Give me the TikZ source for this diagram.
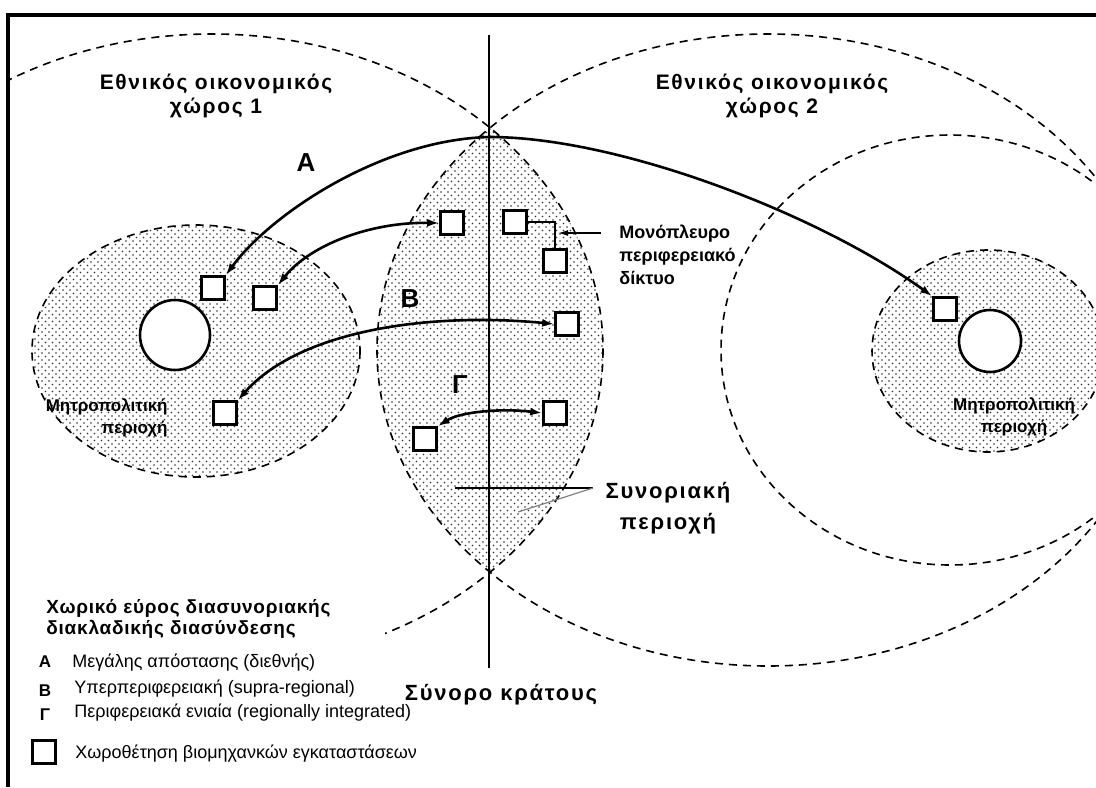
\documentclass[tikz,border=0pt]{standalone}
\usepackage{fontspec}
\setmainfont{Liberation Sans}
\newfontfamily\lblfont[LetterSpace=8]{Liberation Sans}
\newfontfamily\keyfont[LetterSpace=4]{Liberation Sans}
\usetikzlibrary{arrows.meta,patterns}

\pgfdeclarepatternformonly{sparsedots}{\pgfqpoint{-0.5pt}{-0.5pt}}{\pgfqpoint{3pt}{3pt}}{\pgfqpoint{3.5pt}{3.5pt}}{%
  \pgfpathcircle{\pgfqpoint{0pt}{0pt}}{0.45pt}%
  \pgfpathcircle{\pgfqpoint{1.75pt}{1.75pt}}{0.45pt}%
  \pgfusepath{fill}}

\tikzset{
  zone/.style={dash pattern=on 4pt off 3pt, line width=0.8pt},
  dotfill/.style={pattern=sparsedots, pattern color=black!80},
  sitebox/.style={draw, fill=white, line width=1.3pt, minimum size=11.5pt, inner sep=0pt},
  link/.style={line width=1.3pt, {Latex[length=6pt,width=4pt]}-{Latex[length=6pt,width=4pt]}},
  title/.style={font=\lblfont\bfseries\fontsize{10.5}{12}\selectfont, align=center, inner sep=0pt},
  bigletter/.style={font=\bfseries\fontsize{13}{13}\selectfont, inner sep=0pt},
  metro/.style={font=\bfseries\fontsize{8.5}{11}\selectfont, inner sep=0pt},
  smalllbl/.style={font=\bfseries\fontsize{9}{11.5}\selectfont, align=left, inner sep=0pt},
  borderlbl/.style={font=\lblfont\bfseries\fontsize{11}{15.5}\selectfont, align=center, inner sep=0pt},
  keytitle/.style={font=\keyfont\bfseries\fontsize{9.5}{10.5}\selectfont, align=left, inner sep=0pt},
  keyletter/.style={font=\bfseries\fontsize{8.5}{10}\selectfont, inner sep=0pt},
  keytext/.style={font=\fontsize{9}{10}\selectfont, inner sep=0pt}
}

\begin{document}
\begin{tikzpicture}[x=0.5pt, y=-0.5pt]
\useasboundingbox (0,0) rectangle (1096,787);

\begin{scope}
\clip (8,15) rectangle (1096,787);

% 边境区 (两个国家空间的交集)
\begin{scope}
  \clip (212,350) ellipse [x radius=391, y radius=316];
  \fill[dotfill] (768,350) ellipse [x radius=391, y radius=316];
\end{scope}

% 大都市区
\fill[dotfill] (196,351) ellipse [x radius=164, y radius=126];
\draw[zone] (196,351) ellipse [x radius=164, y radius=126];
\fill[dotfill] (988,351) ellipse [x radius=116, y radius=101];
\draw[zone] (988,351) ellipse [x radius=116, y radius=101];

% 国家经济空间
\begin{scope}
  \clip (8,15) rectangle (1096,560) (385,560) rectangle (1096,787);
  \draw[zone] (212,350) ellipse [x radius=391, y radius=316];
\end{scope}
\draw[zone] (768,350) ellipse [x radius=391, y radius=316];
\draw[zone] (950,350) ellipse [x radius=229, y radius=215];

% 城市中心
\draw[line width=1.3pt, fill=white] (175,335) circle [radius=35];
\draw[line width=1.3pt, fill=white] (990,341) circle [radius=31];
\end{scope}

% 国界
\coordinate (lineTop) at (489,35);
\coordinate (lineEnd) at (489,668);
\draw[line width=1pt] (lineTop) -- (lineEnd);

% 工业设施
\node[sitebox] (sqL1) at (213,288) {};
\node[sitebox] (sqL2) at (265,298) {};
\node[sitebox] (sqL3) at (225,413) {};
\node[sitebox] (sqC1) at (452,223) {};
\node[sitebox] (sqC2) at (515,222) {};
\node[sitebox] (sqC3) at (555,261) {};
\node[sitebox] (sqC4) at (567,324) {};
\node[sitebox] (sqC5) at (555,413) {};
\node[sitebox] (sqC6) at (425,439) {};
\node[sitebox] (sqR1) at (945,309) {};

% 联系
\coordinate (aTop) at (489,137);
\draw[link] (sqL1.north east) .. controls (270,215) and (380,140) .. (aTop)
    .. controls (620,137) and (820,215) .. (sqR1.north west);
\draw[link] (sqL2.north east) .. controls (310,245) and (370,222) .. (sqC1.west);
\draw[link] (sqL3.north east) .. controls (300,330) and (430,312) .. (sqC4.west);
\draw[link] (sqC6.north east) .. controls (460,412) and (500,408) .. (sqC5.west);
\draw[line width=0.7pt] (sqC2.east) -| (sqC3.north);

% 标签
\node[title] (natOne) at (216,96) {Εθνικός οικονομικός\\χώρος 1};
\node[title] (natTwo) at (772,96) {Εθνικός οικονομικός\\χώρος 2};
\node[bigletter] (lblA) at (306,163) {Α};
\node[bigletter] (lblB) at (410,299) {Β};
\node[bigletter] (lblG) at (460,385) {Γ};
\node[metro, align=right, anchor=east] (metroL) at (168,418) {Μητροπολιτική\\περιοχή};
\node[metro, align=center] (metroR) at (1014,417) {Μητροπολιτική\\περιοχή};

\node[smalllbl, anchor=north west] (oneSided) at (619,225) {Μονόπλευρο\\περιφερειακό\\δίκτυο};
\coordinate (oneTail) at (601,233);
\coordinate (oneTip) at (558,233);
\draw[line width=0.7pt, -{Latex[length=5pt,width=3pt]}] (oneTail) -- (oneTip);

\node[borderlbl] (borderZone) at (668,508) {Συνοριακή\\περιοχή};
\coordinate (zoneA) at (593,488);
\coordinate (zoneB) at (455,488);
\coordinate (zoneC) at (518,512);
\draw[line width=0.8pt] (zoneA) -- (zoneB);
\draw[line width=0.6pt, gray] (zoneA) -- (zoneC);

\node[borderlbl, anchor=base] (stateBorder) at (501,700) {Σύνορο κράτους};

% 图例
\node[keytitle, anchor=north west] (keyHead) at (46,599) {Χωρικό εύρος διασυνοριακής\\διακλαδικής διασύνδεσης};
\node[keyletter, anchor=base] (keyA) at (45,667) {Α};
\node[keytext, anchor=base west] (keyAtxt) at (72,667) {Μεγάλης απόστασης (διεθνής)};
\node[keyletter, anchor=base] (keyB) at (45,696) {Β};
\node[keytext, anchor=base west] (keyBtxt) at (74,693) {Υπερπεριφερειακή (supra-regional)};
\node[keyletter, anchor=base] (keyG) at (45,720) {Γ};
\node[keytext, anchor=base west] (keyGtxt) at (74,717) {Περιφερειακά ενιαία (regionally integrated)};
\node[sitebox] (sqKey) at (44,752) {};
\node[keytext, anchor=base west] (keyKtxt) at (75,758) {Χωροθέτηση βιομηχανκών εγκαταστάσεων};

% 边框
\draw[line width=1.8pt] (1096,15) -- (8,15) -- (8,787);

\end{tikzpicture}
\end{document}
